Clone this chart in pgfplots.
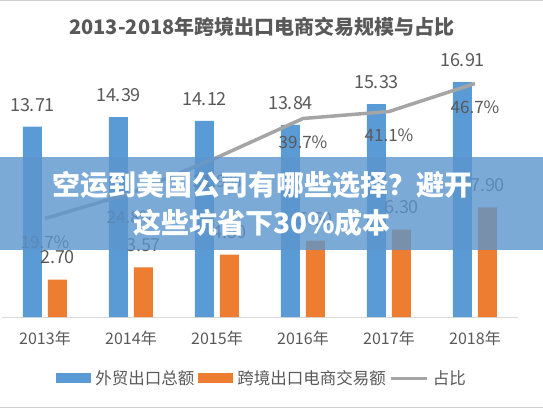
\documentclass[border=0pt]{standalone}
\usepackage{pgfplots}
\pgfplotsset{compat=1.18}
\usepackage{fontspec}
\setmainfont{Noto Sans CJK SC}
\definecolor{cblue}{HTML}{5B9BD5}
\definecolor{corange}{HTML}{ED7D31}
\definecolor{cgray}{HTML}{A5A5A5}
\definecolor{ctext}{HTML}{595959}
\definecolor{caxis}{HTML}{D9D9D9}
\definecolor{cframe}{HTML}{D0D0D0}
\definecolor{cband}{RGB}{92,149,205}
\begin{document}
\begin{tikzpicture}[x=1pt,y=1pt]
\useasboundingbox (0,0) rectangle (543,408);
\fill[white] (0,0) rectangle (543,408);
\draw[cframe,line width=1pt] (0,407.5)--(543,407.5);
\draw[cframe,line width=1pt] (0,0.5)--(543,0.5);
\node[text=ctext,font=\bfseries\fontsize{20}{20}\selectfont] at (262,381) {2013-2018年跨境出口电商交易规模与占比};
\begin{axis}[
  at={(2pt,91pt)}, anchor=south west,
  scale only axis, width=516pt, height=250pt,
  xmin=-0.5, xmax=5.5, ymin=0, ymax=18,
  axis y line=none, axis x line=bottom,
  x axis line style={-, draw=caxis, line width=1pt},
  xtick={0,1,2,3,4,5},
  xticklabels={2013年,2014年,2015年,2016年,2017年,2018年},
  major tick length=0pt,
  xticklabel style={font=\fontsize{16}{16}\selectfont, text=ctext, anchor=center, yshift=-21pt},
  /pgf/number format/assume math mode=true,
  ybar, bar width=19pt,
  nodes near coords={\pgfmathprintnumber[fixed,fixed zerofill,precision=2]{\pgfplotspointmeta}},
  every node near coord/.append style={font=\fontsize{18}{18}\selectfont, text=ctext, anchor=center, yshift=22pt},
  legend columns=3,
  legend style={at={(0.504,-0.244)}, anchor=center, draw=none, fill=none,
    font=\fontsize{16.5}{16.5}\selectfont, text=ctext,
    /tikz/every odd column/.append style={column sep=2pt},
    /tikz/every even column/.append style={column sep=2pt}},
]
\addplot[draw=none, fill=cblue, bar shift=-12.5pt,
  legend image code/.code={\fill[cblue] (0pt,-5pt) rectangle (35pt,5pt);}]
  coordinates {(0,13.71) (1,14.39) (2,14.12) (3,13.84) (4,15.33) (5,16.91)};
\addlegendentry{外贸出口总额}
\addplot[draw=none, fill=corange, bar shift=12.5pt,
  legend image code/.code={\fill[corange] (0pt,-5pt) rectangle (35pt,5pt);}]
  coordinates {(0,2.70) (1,3.57) (2,4.50) (3,5.50) (4,6.30) (5,7.90)};
\addlegendentry{跨境出口电商交易额}
\addlegendimage{legend image code/.code={\draw[cgray, line width=3pt] (0pt,0pt)--(36pt,0pt);}}
\addlegendentry{占比}
\end{axis}
\begin{axis}[
  at={(2pt,91pt)}, anchor=south west,
  scale only axis, width=516pt, height=250pt,
  xmin=-0.5, xmax=5.5, ymin=0, ymax=50,
  hide axis,
  /pgf/number format/assume math mode=true,
]
\addplot[cgray, line width=3.5pt, line join=round, mark=none,
  nodes near coords={\pgfmathprintnumber[fixed,fixed zerofill,precision=1]{\pgfplotspointmeta}\%},
  every node near coord/.append style={font=\fontsize{17}{17}\selectfont, text=ctext, anchor=center, yshift=-24pt}]
  coordinates {(0,19.7) (1,24.8) (2,31.9) (3,39.7) (4,41.1) (5,46.7)};
\end{axis}
\fill[cband, opacity=0.8] (0,158) rectangle (543,251);
\node[text=white,font=\bfseries\fontsize{28}{28}\selectfont] at (262,223) {空运到美国公司有哪些选择？避开};
\node[text=white,font=\bfseries\fontsize{28}{28}\selectfont] at (262,185) {这些坑省下30\%成本};
\end{tikzpicture}
\end{document}
